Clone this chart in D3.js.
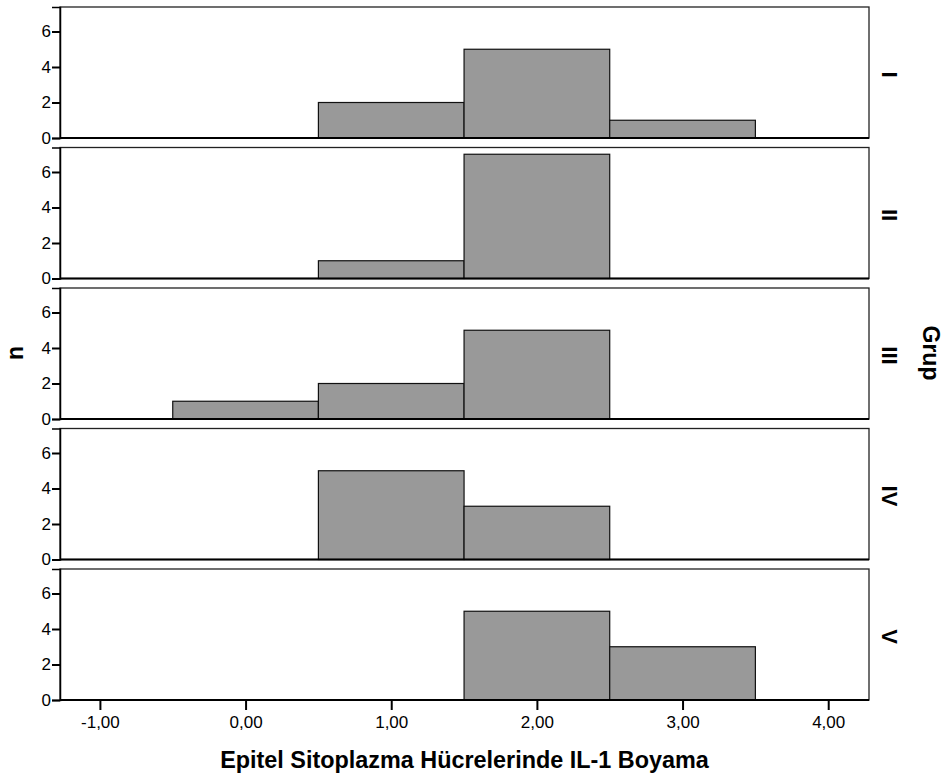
<!DOCTYPE html>
<html>
<head>
<meta charset="utf-8">
<script src="https://cdn.jsdelivr.net/npm/d3@7"></script>
<style>
    body { margin: 0; background: #fff; }
    svg { display: block; font-family: "Liberation Sans", Arial, sans-serif; }
    .tick text { font-size: 17px; font-family: "Liberation Sans", Arial, sans-serif; fill: #000; }
</style>
</head>
<body>
<div id="chart"></div>
<script>
// groups (panel labels, top to bottom)
let groups = ["I", "II", "III", "IV", "V"];

// bin edges of the histogram (width 1, centred on integers)
let binStarts = [-0.5, 0.5, 1.5, 2.5];

// counts per bin for each group
let countsI = [0, 2, 5, 1];
let countsII = [0, 1, 7, 0];
let countsIII = [1, 2, 5, 0];
let countsIV = [0, 5, 3, 0];
let countsV = [0, 0, 5, 3];

let allCounts = [countsI, countsII, countsIII, countsIV, countsV];

let xTicks = [-1, 0, 1, 2, 3, 4];
let yTicks = [0, 2, 4, 6];

let xTitle = "Epitel Sitoplazma Hücrelerinde IL-1 Boyama";
let yTitle = "n";
let groupTitle = "Grup";

//layout
let width = 948;
let height = 778;
let left = 60;
let right = 869;
let top0 = 7;
let panelH = 131;
let panelStep = 140.5;

let svg = d3.select("#chart")
    .append("svg")
    .attr("width", width)
    .attr("height", height);

let x = d3.scaleLinear()
    .domain([-1.274, 4.28])
    .range([left, right]);

let y = d3.scaleLinear()
    .domain([0, 7.38])
    .range([panelH, 0]);

groups.forEach(function(g, i) {
    let py = top0 + i * panelStep;
    let panel = svg.append("g")
        .attr("transform", `translate(0,${py})`);

    // frame
    panel.append("rect")
        .attr("x", left)
        .attr("y", 0)
        .attr("width", right - left)
        .attr("height", panelH)
        .attr("fill", "#fff")
        .attr("stroke", "#222")
        .attr("stroke-width", 1.3);

    // bars
    let bins = binStarts.map(function(b, j) { return { x0: b, x1: b + 1, n: allCounts[i][j] }; })
        .filter(function(d) { return d.n > 0; });

    panel.selectAll("rect.bar")
        .data(bins)
        .enter()
        .append("rect")
        .attr("class", "bar")
        .attr("x", function(d) { return x(d.x0); })
        .attr("y", function(d) { return y(d.n); })
        .attr("width", function(d) { return x(d.x1) - x(d.x0); })
        .attr("height", function(d) { return y(0) - y(d.n); })
        .attr("fill", "#999999")
        .attr("stroke", "#111")
        .attr("stroke-width", 1.2);

    // bottom axis line
    panel.append("line")
        .attr("x1", left)
        .attr("x2", right)
        .attr("y1", panelH)
        .attr("y2", panelH)
        .attr("stroke", "#000")
        .attr("stroke-width", 2);

    // y axis
    let yAxis = panel.append("g")
        .attr("transform", `translate(${left},0)`)
        .call(d3.axisLeft(y).tickValues(yTicks).tickSize(8).tickPadding(1).tickFormat(d3.format("d")));
    yAxis.select(".domain").attr("stroke", "#000").attr("stroke-width", 1.5);
    yAxis.selectAll(".tick line").attr("stroke", "#000").attr("stroke-width", 2);

    // group label
    panel.append("text")
        .attr("transform", `translate(882,${panelH / 2 + 2}) rotate(90)`)
        .attr("text-anchor", "middle")
        .attr("font-size", 22)
        .attr("font-weight", "bold")
        .text(g);

    //x axis on last panel
    if (i === groups.length - 1) {
        let xAxis = panel.append("g")
            .attr("transform", `translate(0,${panelH})`)
            .call(d3.axisBottom(x).tickValues(xTicks).tickSize(10).tickPadding(6)
                .tickFormat(function(d) { return d3.format(".2f")(d).replace(".", ",").replace("−", "-"); }));
        xAxis.select(".domain").remove();
        xAxis.selectAll(".tick line").attr("stroke", "#000").attr("stroke-width", 2);
    }
});

// axis titles
svg.append("text")
    .attr("x", (left + right) / 2)
    .attr("y", 768)
    .attr("text-anchor", "middle")
    .attr("font-size", 23.4)
    .attr("font-weight", "bold")
    .text(xTitle);

svg.append("text")
    .attr("transform", `translate(23,353) rotate(-90)`)
    .attr("text-anchor", "middle")
    .attr("font-size", 23)
    .attr("font-weight", "bold")
    .text(yTitle);

svg.append("text")
    .attr("transform", `translate(923,353) rotate(90)`)
    .attr("text-anchor", "middle")
    .attr("font-size", 23)
    .attr("font-weight", "bold")
    .text(groupTitle);
</script>
</body>
</html>
